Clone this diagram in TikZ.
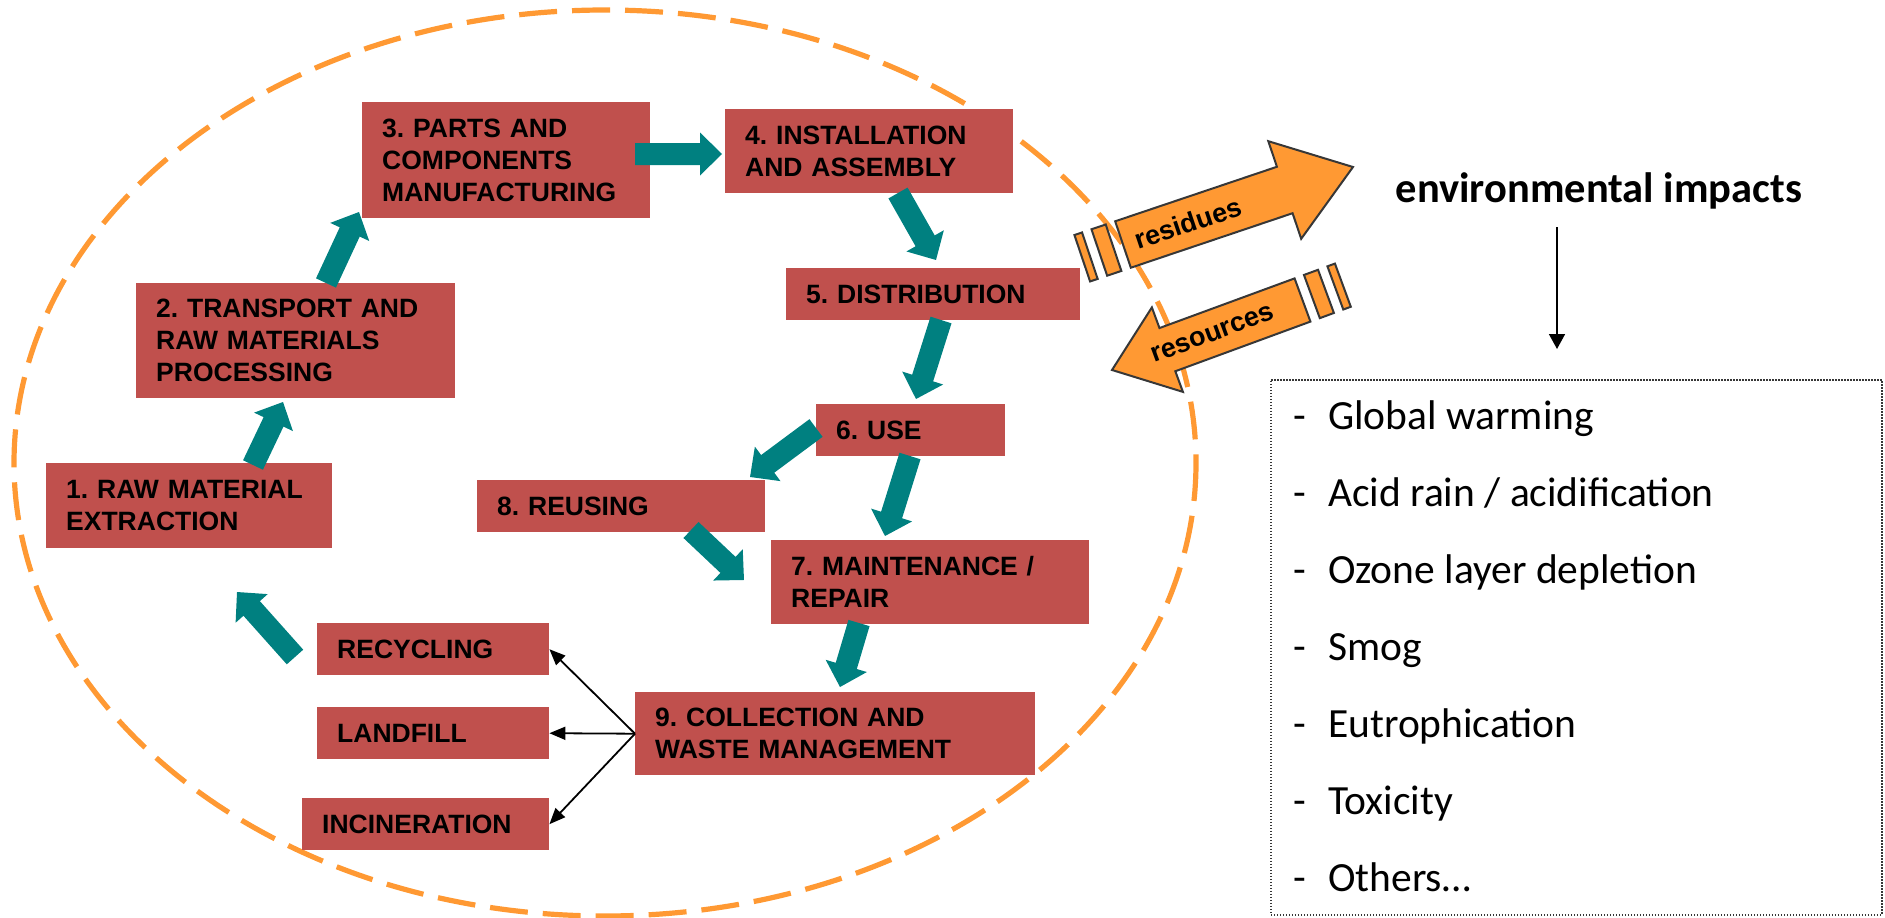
\documentclass[tikz,border=0pt]{standalone}
\usepackage{fontspec}
\setmainfont{Liberation Sans}
\newfontfamily\calibri{Carlito}
\usetikzlibrary{arrows.meta,calc}
\definecolor{boxred}{RGB}{192,80,77}
\definecolor{tealc}{RGB}{0,128,128}
\definecolor{orangec}{RGB}{255,153,51}
\definecolor{outl}{RGB}{55,55,55}
\frenchspacing

% teal block arrow between two named coordinates
\newcommand\tealarrow[2]{%
  \pgfpointdiff{\pgfpointanchor{#1}{center}}{\pgfpointanchor{#2}{center}}%
  \pgfgetlastxy{\ddx}{\ddy}%
  \pgfmathsetmacro\bang{atan2(\ddy,\ddx)}%
  \pgfmathsetmacro\blen{veclen(\ddx,\ddy)}%
  \begin{scope}[shift={(#1)},rotate=\bang]
    \fill[tealc] (0,-11) -- ({\blen-22},-11) -- ({\blen-22},-21.5) -- (\blen,0)
      -- ({\blen-22},21.5) -- ({\blen-22},11) -- (0,11) -- cycle;
  \end{scope}}

% striped orange arrow: #1 tail, #2 tip, #3 half shaft, #4 half head, #5 head length
\newcommand\stripearrow[5]{%
  \pgfpointdiff{\pgfpointanchor{#1}{center}}{\pgfpointanchor{#2}{center}}%
  \pgfgetlastxy{\ddx}{\ddy}%
  \pgfmathsetmacro\bang{atan2(\ddy,\ddx)}%
  \pgfmathsetmacro\blen{veclen(\ddx,\ddy)}%
  \begin{scope}[shift={(#1)},rotate=\bang]
    \filldraw[orangebody] (0,-#3) -- ({\blen-#5},-#3) -- ({\blen-#5},-#4) -- (\blen,0)
      -- ({\blen-#5},#4) -- ({\blen-#5},#3) -- (0,#3) -- cycle;
    \filldraw[orangebody] (-25,-#3) rectangle (-10,#3);
    \filldraw[orangebody] (-43,-#3) rectangle (-35,#3);
  \end{scope}}

\begin{document}
\begin{tikzpicture}[x=1pt,y=-1pt,
  stage/.style={fill=boxred, draw=none, anchor=north west, inner xsep=20pt,
    inner ysep=0pt, align=left, text=black,
    font=\fontsize{26.5}{32}\selectfont\bfseries},
  orangebody/.style={fill=orangec, draw=outl, line width=2pt, line join=miter},
  thinarrow/.style={draw=black, line width=1.8pt, -{Triangle[length=16pt,width=13pt]}},
  listitem/.style={anchor=base west, inner sep=0pt,
    font=\calibri\fontsize{41.5}{48}\selectfont},
  orangetext/.style={font=\fontsize{27}{32}\selectfont\bfseries, inner sep=0pt}
]
\useasboundingbox (0,0) rectangle (1885,918);

% dashed life-cycle boundary
\draw[orangec, line width=5.2pt, dash pattern=on 38pt off 15pt]
  (605,463) ellipse [x radius=591, y radius=453];

% stages
\node[stage, text width=246pt, minimum height=85pt] (b1) at (46,463) {1. RAW MATERIAL\\EXTRACTION};
\node[stage, text width=279pt, minimum height=115pt] (b2) at (136,283) {2. TRANSPORT AND\\RAW MATERIALS\\PROCESSING};
\node[stage, text width=248pt, minimum height=116pt] (b3) at (362,102) {3. PARTS AND\\COMPONENTS\\MANUFACTURING};
\node[stage, text width=248pt, minimum height=84pt] (b4) at (725,109) {4. INSTALLATION\\AND ASSEMBLY};
\node[stage, text width=254pt, minimum height=52pt] (b5) at (786,268) {5. DISTRIBUTION};
\node[stage, text width=149pt, minimum height=52pt] (b6) at (816,404) {6. USE};
\node[stage, text width=248pt, minimum height=52pt] (b8) at (477,480) {8. REUSING};
\node[stage, text width=278pt, minimum height=84pt] (b7) at (771,540) {7. MAINTENANCE /\\REPAIR};
\node[stage, text width=360pt, minimum height=83pt] (b9) at (635,692) {9. COLLECTION AND\\WASTE MANAGEMENT};
\node[stage, text width=192pt, minimum height=52pt] (rec) at (317,623) {RECYCLING};
\node[stage, text width=192pt, minimum height=52pt] (land) at (317,707) {LANDFILL};
\node[stage, text width=207pt, minimum height=52pt] (inc) at (302,798) {INCINERATION};

% teal flow arrows
\coordinate (a12s) at (253,465);  \coordinate (a12e) at (283,402);
\coordinate (a23s) at (326,283);  \coordinate (a23e) at (359,212);
\coordinate (a34s) at (635,154);  \coordinate (a34e) at (722,154);
\coordinate (a45s) at (898,193);  \coordinate (a45e) at (936,260);
\coordinate (a56s) at (941,320);  \coordinate (a56e) at (916,399);
\coordinate (a68s) at (816,428);  \coordinate (a68e) at (750,477);
\coordinate (a67s) at (910,456);  \coordinate (a67e) at (885,536);
\coordinate (a87s) at (691,530);  \coordinate (a87e) at (744,580);
\coordinate (a79s) at (859,623);  \coordinate (a79e) at (840,687);
\coordinate (ar1s) at (295,657);  \coordinate (ar1e) at (237,592);
\tealarrow{a12s}{a12e}
\tealarrow{a23s}{a23e}
\tealarrow{a34s}{a34e}
\tealarrow{a45s}{a45e}
\tealarrow{a56s}{a56e}
\tealarrow{a68s}{a68e}
\tealarrow{a67s}{a67e}
\tealarrow{a87s}{a87e}
\tealarrow{a79s}{a79e}
\tealarrow{ar1s}{ar1e}

% waste management branches
\draw[thinarrow] (b9.west) -- (rec.east);
\draw[thinarrow] (b9.west) -- (land.east);
\draw[thinarrow] (b9.west) -- (inc.east);

% residues / resources arrows
\coordinate (resA) at (1123,244.5); \coordinate (resB) at (1353,167);
\coordinate (rscA) at (1302.5,300); \coordinate (rscB) at (1112,370);
\stripearrow{resA}{resB}{24.5}{51.5}{72}
\stripearrow{rscA}{rscB}{23}{45}{59}
\node[orangetext, rotate=18.6] (restext) at (1188,223) {residues};
\node[orangetext, rotate=20.2] (rsctext) at (1213,334) {resources};

% environmental impacts
\node[anchor=base, inner sep=0pt, font=\calibri\bfseries\fontsize{42.5}{50}\selectfont] (env) at (1599,202) {environmental impacts};
\coordinate (dA) at (1557,227); \coordinate (dB) at (1557,349);
\draw[line width=1.6pt, -{Triangle[length=15pt,width=16pt]}] (dA) -- (dB);

\node[draw=outl, line width=1.5pt, dash pattern=on 1.5pt off 1.5pt, anchor=north west,
  minimum width=611pt, minimum height=535pt, inner sep=0pt] (impbox) at (1270,379) {};
\node[listitem] (i1) at (1293,429) {\makebox[35pt][l]{-}Global warming};
\node[listitem] (i2) at (1293,506) {\makebox[35pt][l]{-}Acid rain / acidification};
\node[listitem] (i3) at (1293,583) {\makebox[35pt][l]{-}Ozone layer depletion};
\node[listitem] (i4) at (1293,660) {\makebox[35pt][l]{-}Smog};
\node[listitem] (i5) at (1293,737) {\makebox[35pt][l]{-}Eutrophication};
\node[listitem] (i6) at (1293,814) {\makebox[35pt][l]{-}Toxicity};
\node[listitem] (i7) at (1293,891) {\makebox[35pt][l]{-}Others\ldots};
\end{tikzpicture}
\end{document}
